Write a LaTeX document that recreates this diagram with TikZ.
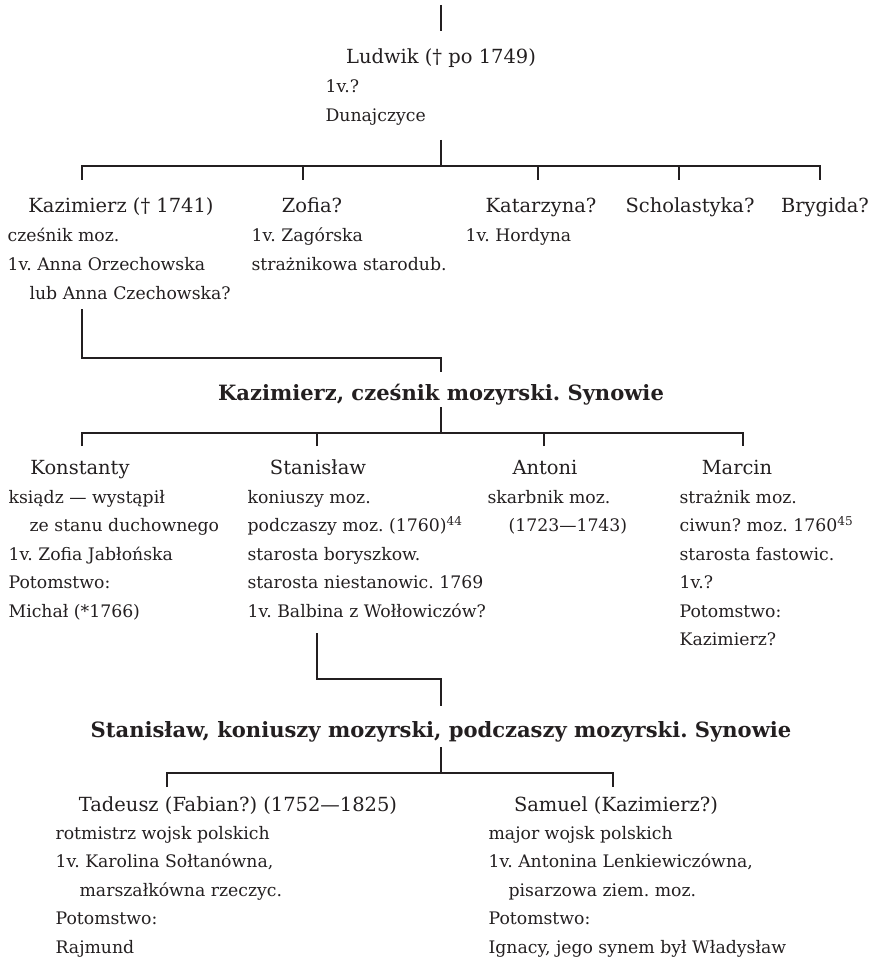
\documentclass[tikz,border=0pt]{standalone}
\usepackage{fontspec}
\setmainfont{DejaVu Serif}
\definecolor{ink}{RGB}{35,31,32}
\frenchspacing
\begin{document}
\begin{tikzpicture}[x=0.75pt,y=-0.75pt,line width=0.9pt,color=ink,
  person/.style={anchor=base,inner sep=0pt,font=\fontsize{14.6}{17}\selectfont},
  info/.style={anchor=base west,inner sep=0pt,font=\fontsize{12.95}{15}\selectfont},
  heading/.style={anchor=base,inner sep=0pt,font=\bfseries\fontsize{15.8}{19}\selectfont}]
\useasboundingbox (0,0) rectangle (869,959);

% Ludwik
\coordinate (root) at (441,5);
\coordinate (ludwik-in) at (441,31);
\draw (root) -- (ludwik-in);
\node[person] (ludwik) at (441,64) {Ludwik († po 1749)};
\foreach \t [count=\i] in {1v.?, Dunajczyce}
  \node[info] (ludwik-\i) at (325,{93+(\i-1)*28.5}) {\t};

% his children
\coordinate (ludwik-out) at (441,140);
\coordinate (bar1) at (441,166);
\coordinate (kazimierz-in) at (82,180);
\coordinate (zofia-in) at (303,180);
\coordinate (katarzyna-in) at (538,180);
\coordinate (scholastyka-in) at (679,180);
\coordinate (brygida-in) at (820,180);
\draw (ludwik-out) -- (bar1);
\draw (kazimierz-in) |- (bar1) -| (brygida-in);
\foreach \c in {zofia,katarzyna,scholastyka}
  \draw (\c-in) -- (\c-in |- bar1);

\node[person] (kazimierz) at (121,213) {Kazimierz († 1741)};
\node[person] (zofia) at (312,213) {Zofia?};
\node[person] (katarzyna) at (541,213) {Katarzyna?};
\node[person] (scholastyka) at (690,213) {Scholastyka?};
\node[person] (brygida) at (825,213) {Brygida?};
\foreach \t [count=\i] in {cześnik moz., 1v. Anna Orzechowska, {\hspace*{16.5pt}lub Anna Czechowska?}}
  \node[info] (kazimierz-\i) at (7,{242+(\i-1)*28.5}) {\t};
\foreach \t [count=\i] in {1v. Zagórska, strażnikowa starodub.}
  \node[info] (zofia-\i) at (251,{242+(\i-1)*28.5}) {\t};
\node[info] (katarzyna-1) at (465,242) {1v. Hordyna};

% Kazimierz, cześnik
\coordinate (kazimierz-out) at (82,309);
\coordinate (bar2) at (441,358);
\coordinate (head1-in) at (441,372);
\draw (kazimierz-out) |- (bar2) -- (head1-in);
\node[heading] (head1) at (441,400) {Kazimierz, cześnik mozyrski. Synowie};

\coordinate (head1-out) at (441,407);
\coordinate (bar3) at (441,433);
\coordinate (konstanty-in) at (82,446);
\coordinate (stanislaw-in) at (317,446);
\coordinate (antoni-in) at (544,446);
\coordinate (marcin-in) at (743,446);
\draw (head1-out) -- (bar3);
\draw (konstanty-in) |- (bar3) -| (marcin-in);
\foreach \c in {stanislaw,antoni}
  \draw (\c-in) -- (\c-in |- bar3);

\node[person] (konstanty) at (80,474) {Konstanty};
\node[person] (stanislaw) at (318,474) {Stanisław};
\node[person] (antoni) at (545,474) {Antoni};
\node[person] (marcin) at (737,474) {Marcin};
\foreach \t [count=\i] in {ksiądz — wystąpił, {\hspace*{15.75pt}ze stanu duchownego}, 1v. Zofia Jabłońska, Potomstwo:, Michał (*1766)}
  \node[info] (konstanty-\i) at (8,{503+(\i-1)*28.5}) {\t};
\foreach \t [count=\i] in {koniuszy moz., podczaszy moz. (1760)\textsuperscript{44}, starosta boryszkow., starosta niestanowic. 1769, 1v. Balbina z Wołłowiczów?}
  \node[info] (stanislaw-\i) at (247,{503+(\i-1)*28.5}) {\t};
\node[info] (antoni-1) at (487,503) {skarbnik moz.};
\node[info] (antoni-2) at (508,531.5) {(1723—1743)};
\foreach \t [count=\i] in {strażnik moz., ciwun? moz. 1760\textsuperscript{45}, starosta fastowic., 1v.?, Potomstwo:, Kazimierz?}
  \node[info] (marcin-\i) at (679,{503+(\i-1)*28.5}) {\t};

% Stanisław, koniuszy
\coordinate (stanislaw-out) at (317,633);
\coordinate (bar4) at (441,679);
\coordinate (head2-in) at (441,706);
\draw (stanislaw-out) |- (bar4) -- (head2-in);
\node[heading] (head2) at (441,737) {Stanisław, koniuszy mozyrski, podczaszy mozyrski. Synowie};

\coordinate (head2-out) at (441,747);
\coordinate (bar5) at (441,773);
\coordinate (tadeusz-in) at (167,787);
\coordinate (samuel-in) at (613,787);
\draw (head2-out) -- (bar5);
\draw (tadeusz-in) |- (bar5) -| (samuel-in);

\node[person] (tadeusz) at (238,811) {Tadeusz (Fabian?) (1752—1825)};
\node[person] (samuel) at (616,811) {Samuel (Kazimierz?)};
\foreach \t [count=\i] in {rotmistrz wojsk polskich, {1v. Karolina Sołtanówna,}, {\hspace*{18pt}marszałkówna rzeczyc.}, Potomstwo:, Rajmund}
  \node[info] (tadeusz-\i) at (55,{839+(\i-1)*28.5}) {\t};
\foreach \t [count=\i] in {major wojsk polskich, {1v. Antonina Lenkiewiczówna,}, {\hspace*{15pt}pisarzowa ziem. moz.}, Potomstwo:, {Ignacy, jego synem był Władysław}}
  \node[info] (samuel-\i) at (488,{839+(\i-1)*28.5}) {\t};
\end{tikzpicture}
\end{document}
